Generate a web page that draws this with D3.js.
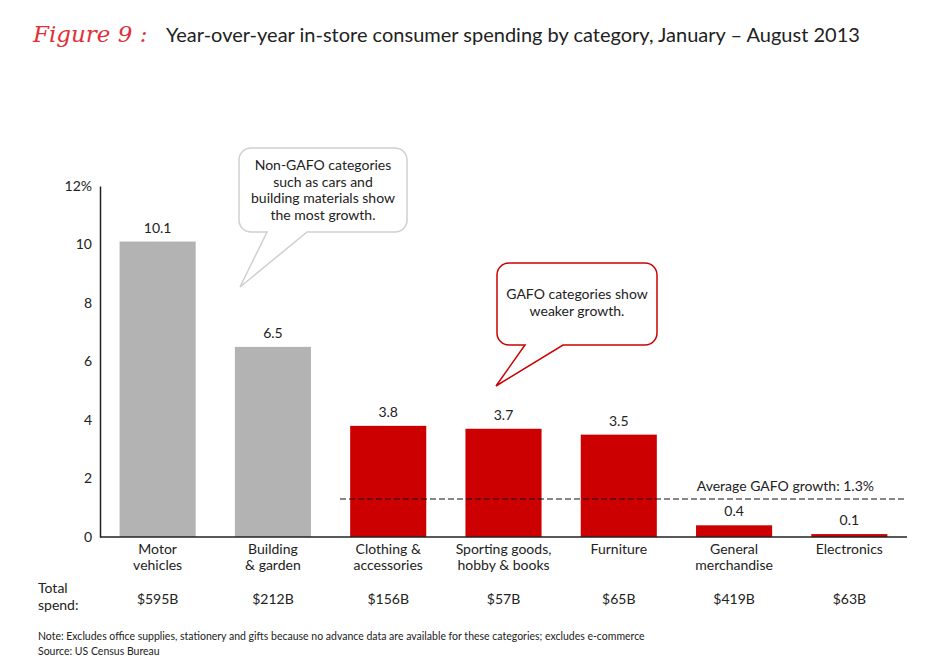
<!DOCTYPE html>
<html>
<head>
<meta charset="utf-8">
<script src="https://cdn.jsdelivr.net/npm/d3@7"></script>
<style>
  body { margin: 0; background: #fff; }
  svg text { font-family: Lato, "Noto Sans", sans-serif; fill: #222; }
</style>
</head>
<body>
<svg id="chart" width="950" height="672"></svg>
<script>
var categories = [["Motor", "vehicles"], ["Building", "& garden"], ["Clothing &", "accessories"],
                  ["Sporting goods,", "hobby & books"], ["Furniture"], ["General", "merchandise"], ["Electronics"]],
    growth = [10.1, 6.5, 3.8, 3.7, 3.5, 0.4, 0.1],
    gafo = [false, false, true, true, true, true, true],
    spend = ["$595B", "$212B", "$156B", "$57B", "$65B", "$419B", "$63B"],
    yTicks = [0, 2, 4, 6, 8, 10, 12],
    avgGafo = 1.3;

var svg = d3.select("#chart"),
    x = d3.scaleBand().domain(d3.range(categories.length)).range([100, 907])
        .paddingInner(0.34).paddingOuter(0.17),
    y = d3.scaleLinear().domain([0, 12]).range([537, 186]);

// title
svg.append("text").attr("x", 33).attr("y", 42)
    .style("font-family", "'DejaVu Serif', serif").style("font-style", "italic")
    .style("font-size", "23px").style("fill", "#e0303a").text("Figure 9 :");
svg.append("text").attr("x", 166).attr("y", 42).style("font-size", "20px")
    .text("Year-over-year in-store consumer spending by category, January \u2013 August 2013");

// bars
svg.selectAll("rect.bar").data(growth).enter().append("rect")
    .attr("class", "bar")
    .attr("x", function (d, i) { return x(i); })
    .attr("width", x.bandwidth())
    .attr("y", function (d) { return y(d); })
    .attr("height", function (d) { return y(0) - y(d); })
    .attr("fill", function (d, i) { return gafo[i] ? "#cc0000" : "#b3b3b3"; });

svg.selectAll("text.val").data(growth).enter().append("text")
    .attr("x", function (d, i) { return x(i) + x.bandwidth() / 2; })
    .attr("y", function (d) { return y(d) - 9; })
    .attr("text-anchor", "middle").style("font-size", "14px")
    .text(function (d) { return d.toFixed(1); });

// axes
var yAxis = svg.append("g").attr("transform", "translate(100,0)")
    .call(d3.axisLeft(y).tickValues(yTicks).tickSize(0).tickPadding(8)
        .tickFormat(function (d) { return d === 12 ? "12%" : d; }));
yAxis.select(".domain").attr("stroke", "#222").attr("stroke-width", 1.5);
yAxis.selectAll("text").style("font-size", "14px").style("font-family", null).attr("fill", "#222");

svg.append("line").attr("x1", 100).attr("x2", 907).attr("y1", y(0)).attr("y2", y(0))
    .attr("stroke", "#222").attr("stroke-width", 1.5);

// average line
svg.append("line").attr("x1", 340).attr("x2", 907).attr("y1", y(avgGafo)).attr("y2", y(avgGafo))
    .attr("stroke", "#111").attr("stroke-width", 1.2).attr("stroke-dasharray", "6,3");
svg.append("text").attr("x", 874).attr("y", y(avgGafo) - 8).attr("text-anchor", "end")
    .style("font-size", "14px").text("Average GAFO growth: " + avgGafo + "%");

// category labels
categories.forEach(function (lines, i) {
  svg.selectAll(null).data(lines).enter().append("text")
      .attr("x", x(i) + x.bandwidth() / 2)
      .attr("y", function (d, j) { return 554 + j * 16; })
      .attr("text-anchor", "middle").style("font-size", "14px")
      .text(function (d) { return d; });
});

// total spend
svg.append("text").attr("x", 38).attr("y", 593).style("font-size", "14px").text("Total");
svg.append("text").attr("x", 38).attr("y", 610).style("font-size", "14px").text("spend:");
svg.selectAll("text.spend").data(spend).enter().append("text")
    .attr("x", function (d, i) { return x(i) + x.bandwidth() / 2; })
    .attr("y", 604).attr("text-anchor", "middle").style("font-size", "14px")
    .text(function (d) { return d; });

// callouts
function callout(x0, y0, x1, y1, r, tailA, tailB, tip, stroke, lines, ty) {
  var p = d3.path();
  p.moveTo(x0 + r, y0);
  p.lineTo(x1 - r, y0); p.arcTo(x1, y0, x1, y0 + r, r);
  p.lineTo(x1, y1 - r); p.arcTo(x1, y1, x1 - r, y1, r);
  p.lineTo(tailB, y1); p.lineTo(tip[0], tip[1]); p.lineTo(tailA, y1);
  p.lineTo(x0 + r, y1); p.arcTo(x0, y1, x0, y1 - r, r);
  p.lineTo(x0, y0 + r); p.arcTo(x0, y0, x0 + r, y0, r);
  p.closePath();
  svg.append("path").attr("d", p.toString()).attr("fill", "#fff")
      .attr("stroke", stroke).attr("stroke-width", 1.5);
  svg.selectAll(null).data(lines).enter().append("text")
      .attr("text-anchor", "middle").style("font-size", "14px")
      .attr("x", (x0 + x1) / 2).attr("y", function (d, j) { return ty + j * 16.5; })
      .text(function (d) { return d; });
}
callout(239, 148, 407, 232, 12, 267, 307, [240, 287], "#cfcfcf",
    ["Non-GAFO categories", "such as cars and", "building materials show", "the most growth."], 170);
callout(497, 263, 657, 345, 12, 525, 563, [496, 386], "#cc0000",
    ["GAFO categories show", "weaker growth."], 299);

// notes
svg.append("text").attr("x", 38).attr("y", 640).style("font-size", "10.5px")
    .text("Note: Excludes office supplies, stationery and gifts because no advance data are available for these categories; excludes e-commerce");
svg.append("text").attr("x", 38).attr("y", 655).style("font-size", "10.5px").text("Source: US Census Bureau");
</script>
</body>
</html>
